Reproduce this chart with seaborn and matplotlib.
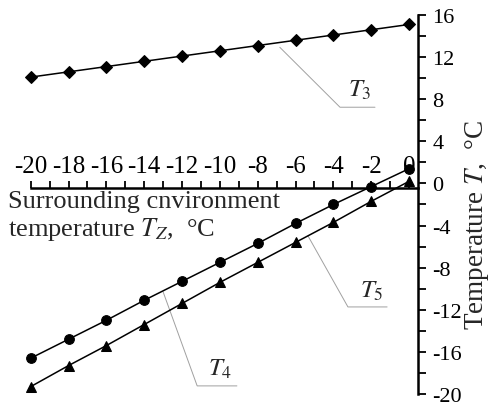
import numpy as np
import pandas as pd
import matplotlib
matplotlib.use("Agg")
import matplotlib.pyplot as plt
import matplotlib.ticker as mticker
import seaborn as sns

# ---------------------------------------------------------------
# Data
# ---------------------------------------------------------------
t_z = [-20, -18, -16, -14, -12, -10, -8, -6, -4, -2, 0]
t3 = [10.1, 10.6, 11.1, 11.6, 12.1, 12.6, 13.1, 13.6, 14.1, 14.6, 15.1]
t5 = [-16.6, -14.8, -13.0, -11.1, -9.3, -7.5, -5.7, -3.8, -2.0, -0.3, 1.4]
t4 = [-19.3, -17.3, -15.4, -13.4, -11.4, -9.4, -7.5, -5.6, -3.7, -1.7, 0.2]

series_names = ["T3", "T5", "T4"]
series_markers = {"T3": "D", "T5": "o", "T4": "^"}
series_msize = {"T3": 6, "T5": 7, "T4": 7}

df = pd.DataFrame({"t_z": t_z, "T3": t3, "T5": t5, "T4": t4})
long_df = df.melt(id_vars="t_z", var_name="series", value_name="temp")

# callout leaders: (start on curve, elbow, end) and label position
leaders = {
    "T3": {"pts": [(-6.83, 12.93), (-3.65, 7.24), (-1.8, 7.24)], "label": (-2.6, 8.97)},
    "T5": {"pts": [(-5.34, -4.99), (-3.23, -11.73), (-1.16, -11.73)], "label": (-1.96, -10.2)},
    "T4": {"pts": [(-13.0, -10.3), (-11.2, -19.23), (-9.1, -19.23)], "label": (-10.0, -17.6)},
}

# ---------------------------------------------------------------
# Style
# ---------------------------------------------------------------
sns.set_theme(style="white")
plt.rcParams["font.family"] = ["Liberation Serif", "DejaVu Serif"]
plt.rcParams["mathtext.fontset"] = "stix"

W, H = 491, 410
fig = plt.figure(figsize=(W / 100, H / 100), dpi=100)
ax = fig.add_axes([30.7 / W, 1 - 395 / H, (418.5 - 30.7) / W, 379 / H])

for name in series_names:
    sub = long_df[long_df["series"] == name]
    sns.lineplot(data=sub, x="t_z", y="temp", ax=ax, color="black", lw=1.1,
                 marker=series_markers[name], markersize=series_msize[name],
                 markeredgecolor="black", markerfacecolor="black",
                 clip_on=False, zorder=3)

# leaders + labels
for name, spec in leaders.items():
    xs, ys = zip(*spec["pts"])
    ax.plot(xs, ys, color="#a0a0a0", lw=0.7, zorder=2)
    lx, ly = spec["label"]
    ax.text(lx, ly, rf"$T_{name[1]}$", fontsize=18, ha="center", va="center")

ax.set_xlim(-20, 0.5)
ax.set_ylim(-20, 16)

# x axis drawn just under y=0 with labels above; y axis on the right
ax.spines["left"].set_visible(False)
ax.spines["bottom"].set_visible(False)
ax.spines["top"].set_position(("data", -0.45))
ax.spines["top"].set_bounds(-20, 0.5)
for s in ["top", "right"]:
    ax.spines[s].set_linewidth(1.8)
    ax.spines[s].set_color("black")

ax.xaxis.tick_top()
ax.yaxis.tick_right()
ax.set_xticks(np.arange(-20, 1, 2))
ax.set_xticks(np.arange(-20, 1, 1), minor=True)
ax.set_yticks(np.arange(-20, 17, 4))
ax.set_yticks(np.arange(-20, 17, 2), minor=True)
ax.tick_params(axis="x", which="both", direction="out", length=5, width=1.3,
               top=True, bottom=False, colors="black")
ax.tick_params(axis="x", which="major", labelsize=18, pad=3)
ax.tick_params(axis="y", which="both", direction="out", length=6, width=1.3,
               right=True, left=False, colors="black")
ax.tick_params(axis="y", which="major", labelsize=16, pad=4)
ax.xaxis.set_major_formatter(mticker.FuncFormatter(lambda v, p: f"{int(v)}"))
ax.yaxis.set_major_formatter(mticker.FuncFormatter(lambda v, p: f"{int(v)}"))

ax.set_xlabel("")
ax.set_ylabel("")
fig.text(477 / W, 1 - 225 / H, r"Temperature $T$,  °C", fontsize=19.5,
         rotation=90, ha="center", va="center")

fig.text(8 / W, 1 - 208 / H, "Surrounding cnvironment",
         fontsize=19, ha="left", va="baseline")
fig.text(8 / W, 1 - 236 / H, r"temperature $T_Z$,  °C",
         fontsize=19, ha="left", va="baseline")

ax.set_facecolor("white")
fig.savefig("out.png", dpi=100, facecolor="white")
